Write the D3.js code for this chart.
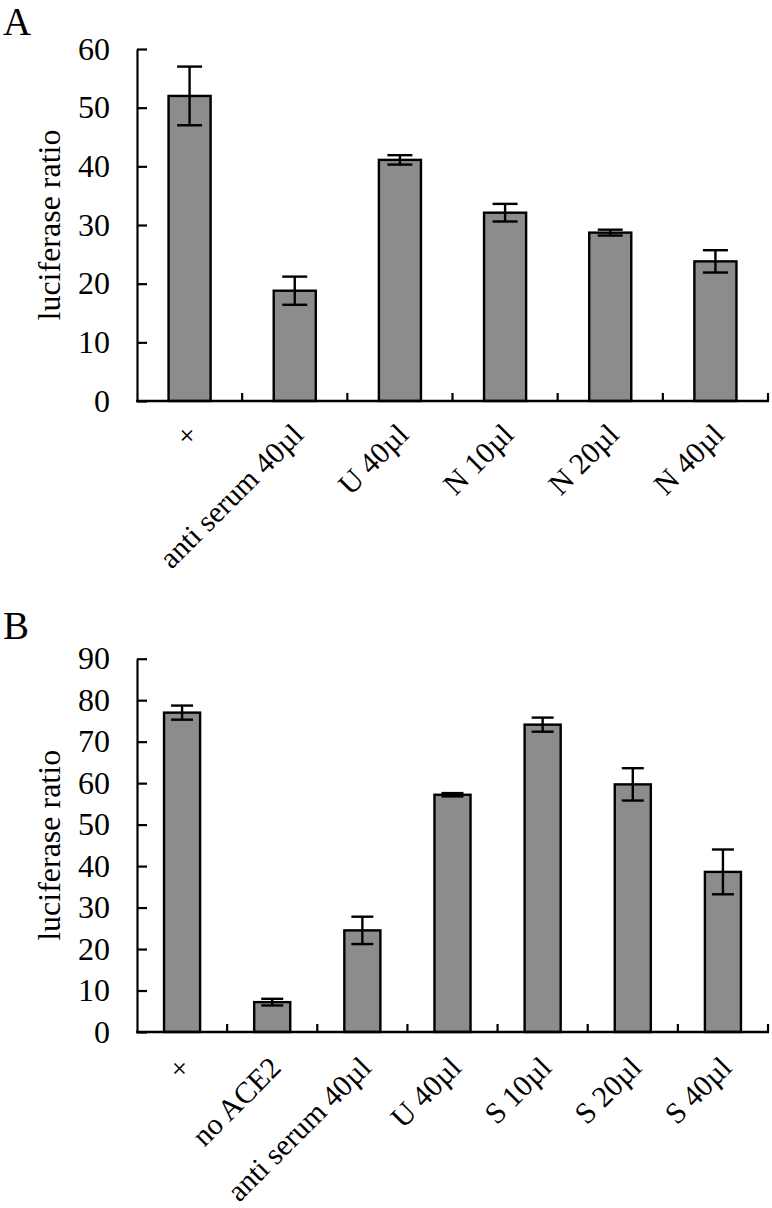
<!DOCTYPE html>
<html>
<head>
<meta charset="utf-8">
<script src="https://cdn.jsdelivr.net/npm/d3@7"></script>
<style>
  html, body { margin: 0; padding: 0; background: #fff; }
  svg { display: block; }
  text { font-family: "Liberation Serif", "Times New Roman", serif; fill: #000; }
</style>
</head>
<body>
<svg id="chart" width="772" height="1208"></svg>
<script>
// ---- Data ----
// "+" (positive control) appears as "×" because the labels are rotated by 45°
const categoriesA = ["+", "anti serum 40µl", "U 40µl", "N 10µl", "N 20µl", "N 40µl"];
const valuesA = [52.0, 18.8, 41.1, 32.1, 28.7, 23.8];
const errorsA = [5.0, 2.4, 0.8, 1.5, 0.5, 1.9];
const ticksA = [0, 10, 20, 30, 40, 50, 60];

const categoriesB = ["+", "no ACE2", "anti serum 40µl", "U 40µl", "S 10µl", "S 20µl", "S 40µl"];
const valuesB = [77.0, 7.2, 24.5, 57.2, 74.1, 59.7, 38.6];
const errorsB = [1.7, 0.8, 3.3, 0.4, 1.7, 3.9, 5.4];
const ticksB = [0, 10, 20, 30, 40, 50, 60, 70, 80, 90];

const svg = d3.select("#chart");

function panel(opts) {
  const { letter, letterY, cats, vals, errs, ticks, yMax, left, right, top, bottom, cap, labelDy } = opts;
  const g = svg.append("g");

  const x = d3.scaleBand().domain(cats).range([left, right]).paddingInner(0.6).paddingOuter(0.3);
  const y = d3.scaleLinear().domain([0, yMax]).range([bottom, top]);
  const step = x.step();

  // Bars
  g.selectAll("rect.bar").data(cats).enter().append("rect")
    .attr("class", "bar")
    .attr("x", d => x(d))
    .attr("width", x.bandwidth())
    .attr("y", (d, i) => y(vals[i]))
    .attr("height", (d, i) => y(0) - y(vals[i]))
    .attr("fill", "#8c8c8c")
    .attr("stroke", "#000")
    .attr("stroke-width", 2.4);

  // Error bars
  const eb = g.selectAll("g.err").data(cats).enter().append("g").attr("class", "err")
    .attr("stroke", "#000").attr("stroke-width", 2.4);
  eb.append("line")
    .attr("x1", d => x(d) + x.bandwidth() / 2).attr("x2", d => x(d) + x.bandwidth() / 2)
    .attr("y1", (d, i) => y(vals[i] + errs[i])).attr("y2", (d, i) => y(vals[i] - errs[i]));
  eb.append("line")
    .attr("x1", d => x(d) + x.bandwidth() / 2 - cap).attr("x2", d => x(d) + x.bandwidth() / 2 + cap)
    .attr("y1", (d, i) => y(vals[i] + errs[i])).attr("y2", (d, i) => y(vals[i] + errs[i]));
  eb.append("line")
    .attr("x1", d => x(d) + x.bandwidth() / 2 - cap).attr("x2", d => x(d) + x.bandwidth() / 2 + cap)
    .attr("y1", (d, i) => y(vals[i] - errs[i])).attr("y2", (d, i) => y(vals[i] - errs[i]));

  // Y axis
  const yAxis = d3.axisLeft(y).tickValues(ticks).tickSizeInner(-10).tickSizeOuter(0).tickPadding(27);
  const ya = g.append("g").attr("transform", `translate(${left},0)`).call(yAxis);
  ya.select(".domain").attr("stroke-width", 2.2);
  ya.selectAll(".tick line").attr("stroke-width", 2.2);
  ya.selectAll(".tick text").attr("font-size", 32).attr("font-family", "Liberation Serif, serif");

  // X axis line
  g.append("line").attr("x1", left - 1).attr("x2", right + 1).attr("y1", bottom).attr("y2", bottom)
    .attr("stroke", "#000").attr("stroke-width", 2.4);
  // Category boundary ticks (inward)
  g.selectAll("line.xt").data(cats).enter().append("line").attr("class", "xt")
    .attr("x1", d => x(d) - step * 0.3 + step).attr("x2", d => x(d) - step * 0.3 + step)
    .attr("y1", bottom).attr("y2", bottom - 8)
    .attr("stroke", "#000").attr("stroke-width", 2.2);

  // X labels
  g.selectAll("text.xl").data(cats).enter().append("text").attr("class", "xl")
    .attr("font-size", 30)
    .attr("text-anchor", "end")
    .attr("transform", d => {
      const cx = x(d) + x.bandwidth() / 2;
      return `translate(${cx + 3},${bottom + labelDy}) rotate(-45)`;
    })
    .attr("dy", "0.35em")
    .text(d => d);

  // Y title
  g.append("text")
    .attr("transform", `translate(60,${(top + bottom) / 2}) rotate(-90)`)
    .attr("text-anchor", "middle")
    .attr("font-size", 32)
    .text("luciferase ratio");

  // Panel letter
  g.append("text").attr("x", 3).attr("y", letterY).attr("font-size", 39).text(letter);
}

panel({ letter: "A", letterY: 35, cats: categoriesA, vals: valuesA, errs: errorsA, ticks: ticksA,
  yMax: 60, left: 137, right: 768, top: 49, bottom: 401, cap: 12.5, labelDy: 28 });
panel({ letter: "B", letterY: 639, cats: categoriesB, vals: valuesB, errs: errorsB, ticks: ticksB,
  yMax: 90, left: 137, right: 768, top: 658.7, bottom: 1032, cap: 11, labelDy: 30 });
</script>
</body>
</html>
